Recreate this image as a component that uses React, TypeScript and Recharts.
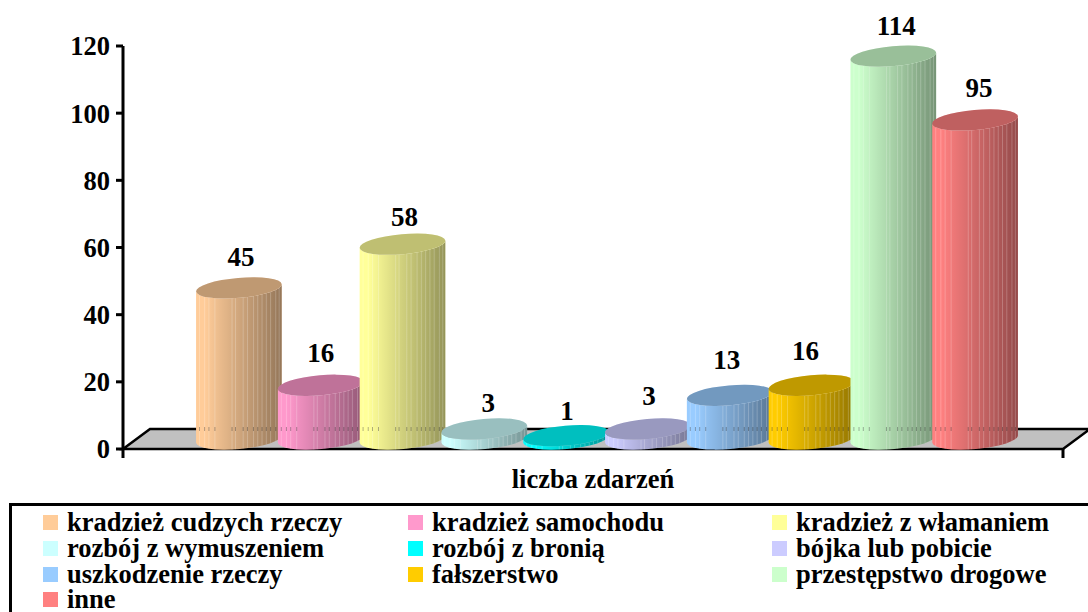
import React from 'react';
import { BarChart, Bar, XAxis, YAxis, Legend, LabelList, ReferenceArea } from 'recharts';

const FONT = '"Liberation Serif", "Times New Roman", serif';

const category = 'liczba zdarzeń';
const seriesNames = [
  'kradzież cudzych rzeczy',
  'kradzież samochodu',
  'kradzież z włamaniem',
  'rozbój z wymuszeniem',
  'rozbój z bronią',
  'bójka lub pobicie',
  'uszkodzenie rzeczy',
  'fałszerstwo',
  'przestępstwo drogowe',
  'inne',
];
const seriesValues = [45, 16, 58, 3, 1, 3, 13, 16, 114, 95];
const seriesColors = [
  '#FFCC99', '#FF99CC', '#FFFF99', '#CCFFFF', '#00FFFF',
  '#CCCCFF', '#99CCFF', '#FFCC00', '#CCFFCC', '#FF8080',
];
const yTicks = [0, 20, 40, 60, 80, 100, 120];

const chartData = [
  seriesNames.reduce<Record<string, string | number>>(
    (row, name, i) => {
      row[name] = seriesValues[i];
      return row;
    },
    { name: category },
  ),
];

// facet edges of the cylinder, as fraction of its width
const facets = [0.04, 0.1, 0.15, 0.22, 0.42, 0.46, 0.55, 0.6, 0.67, 0.72, 0.77, 0.82, 0.87, 0.93, 0.97];

// the original placed its data labels by hand, so each one sits a little off
const labelNudgeX = [2, 0, 2, 4, 1, 1, -3, -6, 3, 4];
const labelNudgeY = [-1, -2, 3, 4, 5, -3, -5, -4, 0, -2];

const TILT = -5;
const RX = 43;
const RY = 10;
const BAR_SHIFT = 14; // 3D offset to the right of the band slot
const LIFT = 10; // 3D offset up from the axis

function Cylinder(props: any) {
  const { x, y, width, height, fill } = props;
  const cx = x + width / 2 + BAR_SHIFT;
  const topY = y - LIFT;
  const botY = y + height - LIFT;
  const dx = RX * Math.cos((TILT * Math.PI) / 180);
  const dy = RX * Math.sin((TILT * Math.PI) / 180);
  const body = [
    `M${cx - dx} ${topY - dy}`,
    `L${cx - dx} ${botY - dy}`,
    `A${RX} ${RY} ${TILT} 0 0 ${cx + dx} ${botY + dy}`,
    `L${cx + dx} ${topY + dy}`,
    `A${RX} ${RY} ${TILT} 0 1 ${cx - dx} ${topY - dy}`,
    'Z',
  ].join(' ');
  const floorLine = 429;

  return (
    <g>
      <path d={body} fill={fill} />
      <path d={body} fill="url(#cylShade)" />
      {facets.map((f) => {
        const fx = cx - dx + f * 2 * dx;
        const t = (f - 0.5) * 2;
        const curve = RY * Math.sqrt(Math.max(0, 1 - t * t));
        const bottom = botY + t * dy + curve;
        const top = topY + t * dy + curve;
        return (
          <g key={f}>
            <line x1={fx} x2={fx} y1={top} y2={bottom} stroke="#ffffff" strokeOpacity={0.22} strokeWidth={1} />
            {top < floorLine - 2 && bottom > floorLine + 2 && (
              <line x1={fx} x2={fx} y1={floorLine - 2} y2={floorLine + 2} stroke="#000000" strokeOpacity={0.3} strokeWidth={1} />
            )}
          </g>
        );
      })}
      <ellipse cx={cx} cy={topY} rx={RX} ry={RY} transform={`rotate(${TILT} ${cx} ${topY})`} fill={fill} />
      <ellipse cx={cx} cy={topY} rx={RX} ry={RY} transform={`rotate(${TILT} ${cx} ${topY})`} fill="#000000" fillOpacity={0.25} />
    </g>
  );
}

function Floor(props: any) {
  const { x, width } = props;
  const y0 = 449;
  const right = x + width;
  return (
    <g>
      <polygon
        points={`${x},${y0} ${x + 27},${y0 - 20} ${right + 27},${y0 - 20} ${right},${y0}`}
        fill="#C0C0C0"
        stroke="#000000"
        strokeWidth={2.5}
      />
      <line x1={x} x2={x} y1={y0} y2={y0 + 9} stroke="#000000" strokeWidth={3} />
      <line x1={right} x2={right} y1={y0} y2={y0 + 9} stroke="#000000" strokeWidth={3} />
    </g>
  );
}

function ValueLabel(props: any) {
  const { x, y, width, value, series } = props;
  return (
    <text
      x={x + width / 2 + BAR_SHIFT + labelNudgeX[series]}
      y={y - 40 + labelNudgeY[series]}
      textAnchor="middle"
      dominantBaseline="central"
      fontFamily={FONT}
      fontWeight="bold"
      fontSize={27}
      fill="#000000"
    >
      {value}
    </text>
  );
}

function LegendBox({ payload }: any) {
  return (
    <div
      style={{
        boxSizing: 'border-box',
        width: 1090,
        height: 120,
        border: '3px solid #000',
        padding: '4px 0 0 31px',
        display: 'grid',
        gridTemplateColumns: '365px 364px 300px',
        gridAutoRows: '25.7px',
        fontFamily: FONT,
        fontWeight: 'bold',
        fontSize: 26.5,
        color: '#000',
        textAlign: 'left',
      }}
    >
      {(payload || []).map((item: any) => (
        <div key={item.value} style={{ display: 'flex', alignItems: 'center', whiteSpace: 'nowrap', lineHeight: '25px' }}>
          <span style={{ width: 15, height: 15, background: item.color, marginRight: 9, flex: 'none' }} />
          {item.value}
        </div>
      ))}
    </div>
  );
}

export default function App() {
  return (
    <div style={{ position: 'absolute', left: 0, top: 0, width: 1088, height: 612, overflow: 'hidden', background: '#fff' }}>
      <BarChart
        width={1088}
        height={612}
        data={chartData}
        margin={{ top: 46, right: 25, bottom: 0, left: 0 }}
        barSize={81.8}
        barGap={0}
      >
        <defs>
          <linearGradient id="cylShade" x1="0" y1="0" x2="1" y2="0">
            <stop offset="0%" stopColor="#000" stopOpacity={0} />
            <stop offset="10%" stopColor="#000" stopOpacity={0} />
            <stop offset="100%" stopColor="#000" stopOpacity={0.42} />
          </linearGradient>
        </defs>
        <XAxis
          dataKey="name"
          height={163}
          axisLine={false}
          tickLine={false}
          tickMargin={14}
          tick={{ fontFamily: FONT, fontWeight: 'bold', fontSize: 26.5, fill: '#000' }}
        />
        <YAxis
          width={123}
          domain={[0, 120]}
          ticks={yTicks}
          interval={0}
          axisLine={{ stroke: '#000', strokeWidth: 3 }}
          tickLine={{ stroke: '#000', strokeWidth: 3 }}
          tickSize={7}
          tickMargin={6}
          tick={{ fontFamily: FONT, fontWeight: 'bold', fontSize: 26.5, fill: '#000' }}
        />
        <ReferenceArea y1={0} y2={6} shape={<Floor />} />
        <Legend
          layout="horizontal"
          verticalAlign="middle"
          align="center"
          itemSorter={null}
          content={<LegendBox />}
          wrapperStyle={{ left: 9, top: 503, width: 1090, height: 120 }}
        />
        {seriesNames.map((name, i) => (
          <Bar key={name} dataKey={name} name={name} fill={seriesColors[i]} shape={<Cylinder />} isAnimationActive={false}>
            <LabelList dataKey={name} content={<ValueLabel series={i} />} />
          </Bar>
        ))}
      </BarChart>
    </div>
  );
}
